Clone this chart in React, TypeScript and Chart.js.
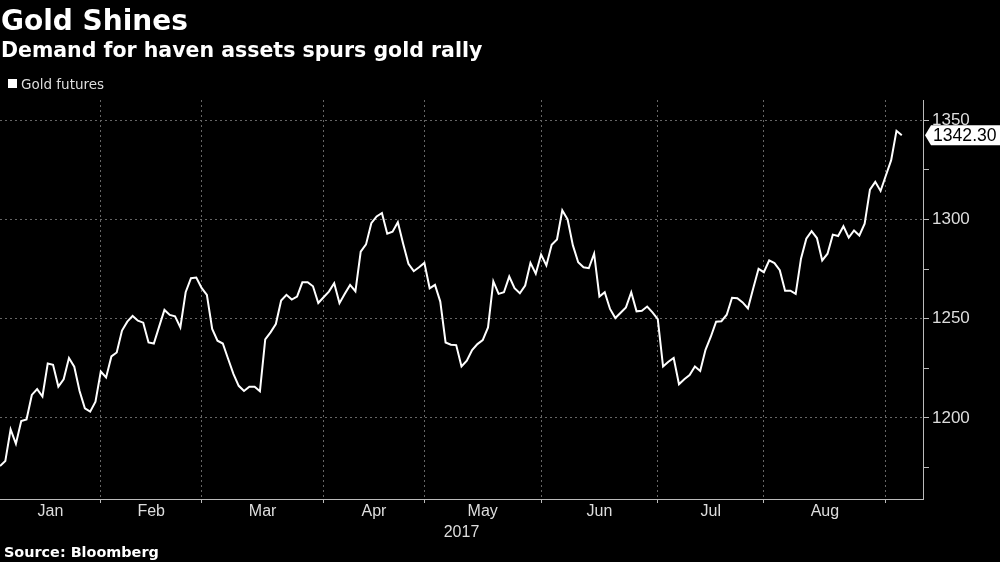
import React, { useEffect, useRef } from 'react';
import { Chart, registerables } from 'chart.js';

Chart.register(...registerables);

const TITLE = 'Gold Shines';
const SUBTITLE = 'Demand for haven assets spurs gold rally';
const SERIES_NAME = 'Gold futures';
const SOURCE = 'Source: Bloomberg';
const YEAR_LABEL = '2017';

// Daily closes (trading days, early Jan – early Sep 2017)
const goldFutures = [
  1175.8, 1178.3, 1194.3, 1187.0, 1198.5, 1199.3, 1211.6, 1214.5, 1210.8, 1227.4,
  1226.8, 1215.8, 1219.5, 1230.2, 1225.8, 1213.6, 1204.9, 1203.2, 1208.2, 1223.4,
  1220.4, 1231.0, 1233.0, 1244.0, 1248.5, 1251.4, 1249.0, 1248.0, 1238.0, 1237.5,
  1246.0, 1254.4, 1251.9, 1251.2, 1245.6, 1263.3, 1270.4, 1270.7, 1265.5, 1262.0,
  1244.8, 1238.9, 1237.5, 1229.8, 1222.2, 1216.2, 1213.6, 1215.7, 1215.7, 1213.4,
  1239.6, 1243.1, 1247.3, 1259.1, 1262.0, 1259.6, 1261.1, 1268.3, 1268.3, 1266.3,
  1257.9, 1260.8, 1263.6, 1267.8, 1257.8, 1262.5, 1267.0, 1263.8, 1283.8, 1287.4,
  1298.1, 1301.5, 1303.2, 1292.8, 1293.8, 1298.6, 1287.7, 1277.6, 1273.9, 1275.9,
  1278.1, 1265.3, 1267.0, 1258.6, 1238.0, 1236.9, 1236.7, 1225.9, 1228.8, 1234.2,
  1237.2, 1239.2, 1245.6, 1268.8, 1262.5, 1263.3, 1271.2, 1265.3, 1262.8, 1266.7,
  1278.1, 1272.6, 1282.3, 1276.8, 1287.2, 1289.9, 1304.5, 1300.0, 1286.9, 1278.4,
  1275.9, 1275.4, 1282.7, 1261.1, 1263.3, 1254.9, 1250.3, 1253.0, 1255.7, 1263.3,
  1253.7, 1254.0, 1256.1, 1253.2, 1249.8, 1225.9, 1228.3, 1230.2, 1217.0, 1219.5,
  1221.6, 1225.9, 1223.7, 1234.3, 1240.9, 1248.5, 1248.7, 1252.0, 1260.5, 1260.3,
  1258.2, 1255.2, 1265.3, 1275.1, 1273.4, 1279.3, 1278.0, 1274.4, 1264.1, 1264.1,
  1262.5, 1280.2, 1290.3, 1294.1, 1290.6, 1279.3, 1282.7, 1292.3, 1291.6, 1296.5,
  1290.8, 1294.4, 1291.9, 1297.8, 1315.0, 1318.9, 1314.3, 1322.1, 1329.8, 1344.6,
  1342.3,
];

const monthNames = ['Jan', 'Feb', 'Mar', 'Apr', 'May', 'Jun', 'Jul', 'Aug'];
// index of the first trading day of each month (plus the first day of Sep)
const monthStarts = [0, 19, 38, 61, 80, 102, 124, 144];
const septemberStart = 167;

const yMajorTicks = [1200, 1250, 1300, 1350];
const yMinorTicks = [1175, 1225, 1275, 1325];

const BG = '#000000';
const LINE = '#ffffff';
const GRID = '#666666';
const AXIS = '#bbbbbb';
const TICK_TEXT = '#dddddd';
const AXIS_FONT = 'Liberation Sans';
const HEAD_FONT = 'DejaVu Sans';

const monthEnds = [...monthStarts.slice(1), septemberStart];
const monthMids = monthStarts.map((s, i) => (s + monthEnds[i]) / 2);
const boundaries = [...monthStarts.slice(1), septemberStart];
const xTickValues = [...monthMids, ...boundaries].sort((a, b) => a - b);

const isBoundary = (v: number) => boundaries.includes(v);
const monthAt = (v: number) => {
  const i = monthMids.indexOf(v);
  return i >= 0 ? monthNames[i] : '';
};

const textPlugin = {
  id: 'bbgTexts',
  afterDraw(chart: any) {
    const ctx = chart.ctx as CanvasRenderingContext2D;
    ctx.save();
    ctx.textAlign = 'left';
    ctx.textBaseline = 'alphabetic';
    ctx.fillStyle = '#ffffff';
    ctx.font = `bold 28px "${HEAD_FONT}"`;
    ctx.fillText(TITLE, 1, 30);
    ctx.font = `bold 20.5px "${HEAD_FONT}"`;
    ctx.fillText(SUBTITLE, 1, 57);
    ctx.fillRect(8, 79, 9, 9);
    ctx.fillStyle = TICK_TEXT;
    ctx.font = `13.5px "${HEAD_FONT}"`;
    ctx.fillText(SERIES_NAME, 21, 89);
    ctx.fillStyle = '#ffffff';
    ctx.font = `bold 14.4px "${HEAD_FONT}"`;
    ctx.fillText(SOURCE, 4, 557);

    // last value tag
    const data = chart.data.datasets[0].data as { x: number; y: number }[];
    const last = data[data.length - 1].y;
    const y = chart.scales.y.getPixelForValue(last);
    const tipX = chart.chartArea.right + 2;
    ctx.beginPath();
    ctx.moveTo(tipX, y);
    ctx.lineTo(tipX + 6, y - 10);
    ctx.lineTo(chart.width, y - 10);
    ctx.lineTo(chart.width, y + 10);
    ctx.lineTo(tipX + 6, y + 10);
    ctx.closePath();
    ctx.fillStyle = '#ffffff';
    ctx.fill();
    ctx.fillStyle = '#000000';
    ctx.font = `17.6px "${AXIS_FONT}"`;
    ctx.textBaseline = 'middle';
    ctx.fillText(last.toFixed(2), tipX + 8, y + 1);
    ctx.restore();
  },
};

export default function App() {
  const ref = useRef<HTMLCanvasElement | null>(null);

  useEffect(() => {
    document.body.style.margin = '0';
    document.body.style.background = BG;
    if (!ref.current) return;
    const chart = new Chart(ref.current, {
      type: 'line',
      data: {
        datasets: [
          {
            label: SERIES_NAME,
            data: goldFutures.map((v, i) => ({ x: i, y: v })),
            borderColor: LINE,
            borderWidth: 2,
            pointRadius: 0,
            tension: 0,
            fill: false,
          },
        ],
      },
      options: {
        responsive: false,
        maintainAspectRatio: false,
        animation: false,
        layout: { padding: { top: 100, left: 0, right: 0, bottom: 0 } },
        plugins: {
          legend: { display: false },
          title: { display: false },
          tooltip: { enabled: false },
        },
        scales: {
          x: {
            type: 'linear',
            min: 0,
            max: 174,
            afterBuildTicks: (scale: any) => {
              scale.ticks = xTickValues.map((v) => ({ value: v }));
            },
            afterFit: (scale: any) => {
              scale.height = 63;
            },
            grid: {
              color: (c: any) => (c.tick && isBoundary(c.tick.value) ? GRID : 'rgba(0,0,0,0)'),
              tickColor: (c: any) => (c.tick && isBoundary(c.tick.value) ? AXIS : 'rgba(0,0,0,0)'),
              tickLength: 4,
              lineWidth: 1,
            },
            border: { display: true, color: AXIS, width: 1, dash: [2, 3] },
            ticks: {
              autoSkip: false,
              maxRotation: 0,
              minRotation: 0,
              padding: 1,
              color: TICK_TEXT,
              font: { family: AXIS_FONT, size: 16, lineHeight: 1 },
              callback: (v: any) => monthAt(Number(v)),
            },
            title: {
              display: true,
              text: YEAR_LABEL,
              color: TICK_TEXT,
              font: { family: AXIS_FONT, size: 16, lineHeight: 1 },
              padding: { top: 0, bottom: 21 },
            },
          },
          y: {
            type: 'linear',
            position: 'right',
            min: 1159.2,
            max: 1360.1,
            afterBuildTicks: (scale: any) => {
              scale.ticks = [...yMinorTicks, ...yMajorTicks]
                .sort((a, b) => a - b)
                .map((v) => ({ value: v }));
            },
            afterFit: (scale: any) => {
              scale.width = 77;
            },
            grid: {
              color: (c: any) => (c.tick && yMajorTicks.includes(c.tick.value) ? GRID : 'rgba(0,0,0,0)'),
              tickColor: AXIS,
              tickLength: 6,
              lineWidth: 1,
            },
            border: { display: true, color: AXIS, width: 1, dash: [2, 3] },
            ticks: {
              autoSkip: false,
              padding: 3,
              color: TICK_TEXT,
              font: { family: AXIS_FONT, size: 17 },
              callback: (v: any) => (yMajorTicks.includes(Number(v)) ? String(v) : ''),
            },
          },
        },
      },
      plugins: [textPlugin],
    });
    return () => chart.destroy();
  }, []);

  return (
    <div style={{ width: 1000, height: 562, background: BG, position: 'relative' }}>
      <canvas ref={ref} width={1000} height={562} style={{ display: 'block' }} />
    </div>
  );
}
